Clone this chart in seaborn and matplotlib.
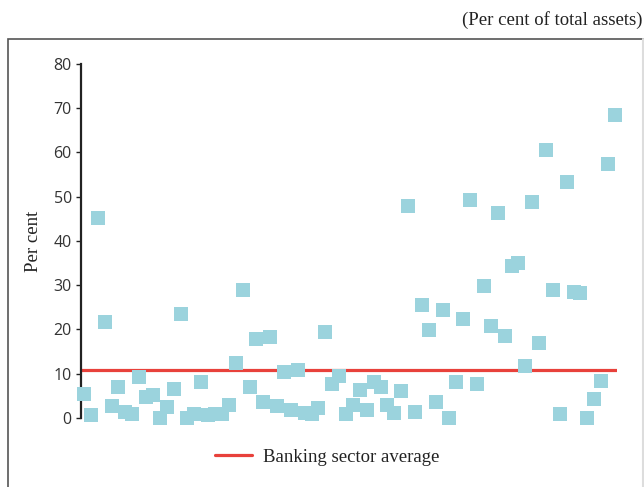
import pandas as pd
import seaborn as sns
import matplotlib.pyplot as plt
from matplotlib.patches import Rectangle
from matplotlib.lines import Line2D

# bank-wise share (per cent of total assets) left to right
bank_values = [5.4, 0.7, 45.2, 21.7, 2.7, 7.0, 1.4, 0.9, 9.3, 4.7,
               5.2, 0.0, 2.5, 6.6, 23.5, 0.0, 0.9, 8.1, 0.7, 0.9,
               0.9, 2.9, 12.4, 28.9, 7.0, 17.9, 3.6, 18.3, 2.7, 10.4,
               1.8, 10.8, 1.1, 0.9, 2.3, 19.4, 7.7, 9.5, 0.9, 2.9,
               6.3, 1.8, 8.1, 7.0, 2.9, 1.1, 6.1, 47.9, 1.4, 25.5,
               19.9, 3.6, 24.4, 0.0, 8.1, 22.4, 49.3, 7.7, 29.8, 20.8,
               46.3, 18.5, 34.4, 35.0, 11.8, 48.8, 16.9, 60.6, 28.9, 0.9,
               53.3, 28.5, 28.2, 0.0, 4.3, 8.4, 57.4, 68.5]
banking_average = 10.9
y_ticks = [0, 10, 20, 30, 40, 50, 60, 70, 80]

data = pd.DataFrame({'bank': range(1, len(bank_values) + 1), 'value': bank_values})

sns.set_style('white')
fig = plt.figure(figsize=(6.44, 4.87), dpi=100)
ax = fig.add_axes([0.1258, 0.1417, 0.8322, 0.7269])

sns.scatterplot(x='bank', y='value', data=data, marker='s', s=92,
                color='#9BD3DD', linewidth=0, alpha=1, ax=ax, clip_on=False, zorder=3)
ax.axhline(banking_average, color='#E8413B', lw=2.3, zorder=2)

ax.set_xlim(0.565, 78.29)
ax.set_ylim(0, 80)
ax.set_yticks(y_ticks)
ax.set_xticks([])
ax.set_xlabel('')
ax.set_ylabel('Per cent', family='Liberation Serif', fontsize=13.5, color='#222222', labelpad=8)
for lab in ax.get_yticklabels():
    lab.set_family('Open Sans')
    lab.set_fontsize(11.5)
    lab.set_color('#333333')
ax.tick_params(axis='y', left=True, length=3.6, width=1, color='#222222', pad=3)

sns.despine(ax=ax, bottom=True)
ax.spines['left'].set_linewidth(1.6)
ax.spines['left'].set_color('#222222')

# outer frame of the chart panel
fig.patches.append(Rectangle((8 / 644, -0.05), 635 / 644, 1.05 - 39 / 487,
                             transform=fig.transFigure, fill=False,
                             edgecolor='#555555', lw=1.2))
fig.add_artist(Line2D([643 / 644, 643 / 644], [0, 1 - 39 / 487], transform=fig.transFigure,
                      color='#dddddd', lw=1.5))

fig.text(642 / 644, 1 - 20 / 487, '(Per cent of total assets)', ha='right', va='center',
         family='Liberation Serif', fontsize=13.5, color='#222222')

handle = Line2D([], [], color='#E8413B', lw=2.3)
fig.legend([handle], ['Banking sector average'], loc='center',
           bbox_to_anchor=(327 / 644, 1 - 457 / 487), frameon=False,
           prop={'family': 'Liberation Serif', 'size': 13.5}, handlelength=2.0,
           handletextpad=0.55, labelcolor='#222222')

plt.savefig('out.png', dpi=100)
